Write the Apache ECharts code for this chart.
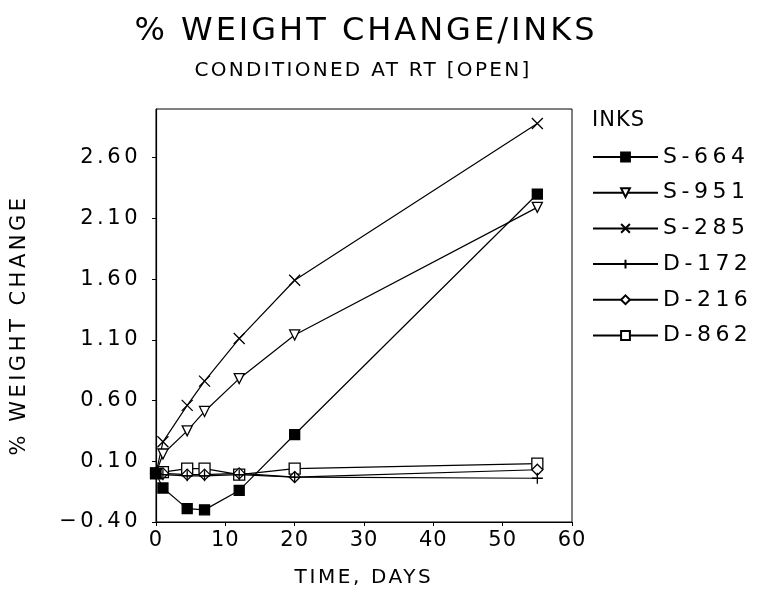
<!DOCTYPE html>
<html>
<head>
<meta charset="utf-8">
<script src="https://cdn.jsdelivr.net/npm/echarts@6/dist/echarts.min.js"></script>
<style>
html,body{margin:0;padding:0;background:#fff;}
#chart{width:767px;height:593px;}
</style>
</head>
<body>
<div id="chart"></div>
<script>
const days = [0, 1, 4.5, 7, 12, 20, 55];
const seriesNames = ['S-664', 'S-951', 'S-285', 'D-172', 'D-216', 'D-862'];
const s664 = [0, -0.12, -0.29, -0.30, -0.14, 0.32, 2.30];
const s951 = [0, 0.16, 0.35, 0.51, 0.78, 1.14, 2.19];
const s285 = [0, 0.26, 0.56, 0.76, 1.11, 1.59, 2.88];
const d172 = [0, -0.01, -0.02, -0.02, -0.01, -0.03, -0.04];
const d216 = [0, 0.00, -0.01, -0.01, 0.00, -0.03, 0.03];
const d862 = [0, 0.01, 0.04, 0.04, -0.01, 0.04, 0.08];
const yTicks = [-0.4, 0.1, 0.6, 1.1, 1.6, 2.1, 2.6];
const xTicks = [0, 10, 20, 30, 40, 50, 60];

// Plotter-style wide letter spacing: a marker family name "lspNN" (NN = tenths of px)
(function () {
  const P = CanvasRenderingContext2D.prototype;
  const orig = P.fillText;
  P.fillText = function (text, x, y, maxWidth) {
    const m = /lsp(\d+)/i.exec(this.font || '');
    const prev = this.letterSpacing;
    if (m && 'letterSpacing' in this) this.letterSpacing = (parseInt(m[1], 10) / 10) + 'px';
    if (arguments.length > 3 && maxWidth !== undefined) orig.call(this, text, x, y, maxWidth);
    else orig.call(this, text, x, y);
    if (m && 'letterSpacing' in this) this.letterSpacing = prev;
  };
})();

const F = ls => 'DejaVu Sans, lsp' + ls;
const values = [s664, s951, s285, d172, d216, d862];
const symbols = [
  {symbol: 'rect', fill: '#000', size: 10, rotate: 0},
  {symbol: 'triangle', fill: '#fff', size: 10, rotate: 180},
  {symbol: 'path://M0,0L10,10M10,0L0,10', fill: 'none', size: 11, rotate: 0},
  {symbol: 'path://M5,0L5,10M0,5L10,5', fill: 'none', size: 11, rotate: 0},
  {symbol: 'diamond', fill: '#fff', size: 11, rotate: 0},
  {symbol: 'rect', fill: '#fff', size: 11, rotate: 0}
];

const series = seriesNames.map((name, k) => ({
  name: name,
  type: 'line',
  data: days.map((d, i) => [d, values[k][i]]),
  symbol: symbols[k].symbol,
  symbolSize: symbols[k].size,
  symbolRotate: symbols[k].rotate,
  showAllSymbol: true,
  lineStyle: {color: '#000', width: 1.2},
  itemStyle: {color: symbols[k].fill, borderColor: '#000', borderWidth: 1.3},
  emphasis: {disabled: true},
  z: 10 - k
}));

const chart = echarts.init(document.getElementById('chart'), null, {renderer: 'canvas'});
chart.setOption({
  animation: false,
  backgroundColor: '#fff',
  textStyle: {fontFamily: 'DejaVu Sans', color: '#000'},
  title: [
    {text: '% WEIGHT CHANGE/INKS', left: 366, textAlign: 'center', top: 16, padding: 0,
     textStyle: {fontFamily: F(30), fontSize: 32, fontWeight: 'normal', color: '#000'}},
    {text: 'CONDITIONED AT RT [OPEN]', left: 363, textAlign: 'center', top: 61, padding: 0,
     textStyle: {fontFamily: F(23), fontSize: 20, fontWeight: 'normal', color: '#000'}},
    {text: 'INKS', left: 592, top: 110, padding: 0,
     textStyle: {fontFamily: F(10), fontSize: 21, fontWeight: 'normal', color: '#000'}}
  ],
  legend: {
    orient: 'vertical',
    left: 592,
    top: 146,
    padding: 0,
    itemWidth: 65,
    itemHeight: 11,
    itemGap: 13.7,
    data: seriesNames,
    textStyle: {fontFamily: F(45), fontSize: 22, color: '#000', lineHeight: 22},
    selectedMode: false
  },
  graphic: [
    {type: 'text', x: 20, y: 325, rotation: Math.PI / 2,
     style: {text: '% WEIGHT CHANGE', font: '21px ' + F(35), fill: '#000', textAlign: 'center', textVerticalAlign: 'middle'}}
  ],
  grid: {left: 156, right: 195, top: 109, bottom: 69, show: true, borderColor: '#000', borderWidth: 1, containLabel: false},
  xAxis: {
    type: 'value', min: xTicks[0], max: xTicks[xTicks.length - 1], interval: 10,
    name: 'TIME, DAYS', nameLocation: 'middle', nameGap: 46,
    nameTextStyle: {fontFamily: F(26), fontSize: 20, color: '#000'},
    axisLine: {show: true, onZero: false, lineStyle: {color: '#000', width: 1.2}},
    axisTick: {show: true, length: 4, lineStyle: {color: '#000'}},
    axisLabel: {fontFamily: F(10), fontSize: 21, color: '#000', margin: 8},
    splitLine: {show: false}
  },
  yAxis: {
    type: 'value', min: -0.4, max: 3.0,
    axisLine: {show: true, onZero: false, lineStyle: {color: '#000', width: 1.2}},
    axisTick: {show: true, length: 4, lineStyle: {color: '#000'}, customValues: yTicks},
    axisLabel: {fontFamily: F(35), fontSize: 21, color: '#000', margin: 15, customValues: yTicks,
      formatter: v => (v < -1e-9 ? '\u2212' : '') + Math.abs(v).toFixed(2)},
    splitLine: {show: false}
  },
  series: series
});
</script>
</body>
</html>
